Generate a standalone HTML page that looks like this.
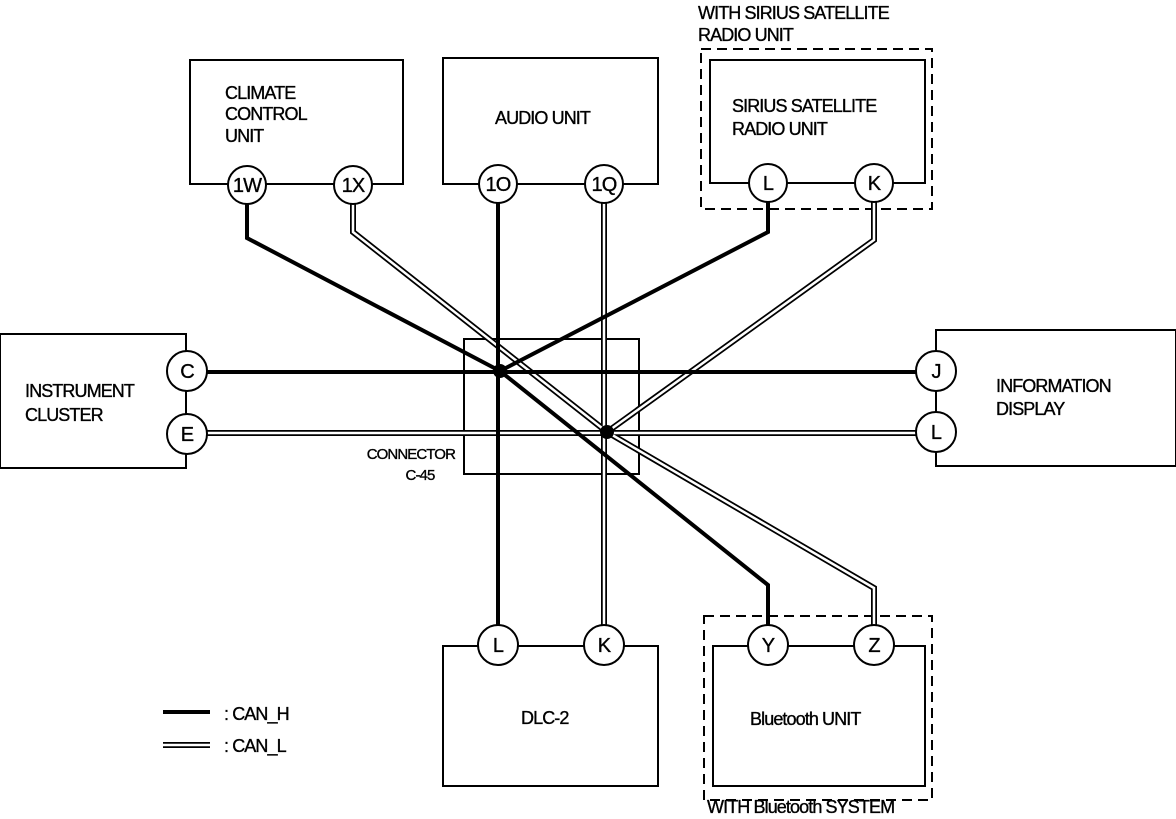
<!DOCTYPE html>
<html><head><meta charset="utf-8"><style>
html,body{margin:0;padding:0;background:#fff;}
svg{display:block;}
text{font-family:"Liberation Sans",sans-serif;font-size:18px;fill:#000;letter-spacing:-0.9px;stroke:#000;stroke-width:0.35px;}
.c text{font-size:20px;text-anchor:middle;}
</style></head><body>
<svg width="1176" height="819" viewBox="0 0 1176 819" xmlns="http://www.w3.org/2000/svg">
<g fill="none" stroke="#000" stroke-width="2">
<rect x="190" y="60" width="213" height="124"/>
<rect x="443" y="58" width="215" height="126"/>
<rect x="710" y="60" width="215" height="123"/>
<rect x="701" y="49" width="231" height="160" stroke-dasharray="10,6"/>
<rect x="0" y="334" width="186" height="134"/>
<rect x="936" y="330" width="240" height="136"/>
<rect x="443" y="646" width="215" height="140"/>
<rect x="713" y="646" width="212" height="140"/>
<rect x="704" y="616" width="228" height="184" stroke-dasharray="10,6"/>
<rect x="464" y="339" width="175" height="135"/>
</g>
<g fill="none" stroke-linejoin="miter">
<g stroke="#000" stroke-width="6">
<polyline points="353,200 353,232 607,432 874,588 874,630"/>
<line x1="604" y1="200" x2="604" y2="630"/>
<line x1="202" y1="433" x2="920" y2="433"/>
<polyline points="874,200 874,240 607,432"/>
<line x1="163" y1="745" x2="210" y2="745"/>
</g>
<g stroke="#fff" stroke-width="2.5">
<polyline points="353,200 353,232 607,432 874,588 874,630"/>
<line x1="604" y1="200" x2="604" y2="630"/>
<line x1="202" y1="433" x2="920" y2="433"/>
<polyline points="874,200 874,240 607,432"/>
<line x1="163" y1="745" x2="210" y2="745"/>
</g>
</g>
<g fill="none" stroke="#000" stroke-width="4">
<polyline points="247,200 247,238 500,371 768,585 768,630"/>
<line x1="498" y1="200" x2="498" y2="630"/>
<line x1="202" y1="372" x2="920" y2="372"/>
<polyline points="768,200 768,232 500,371"/>
<line x1="163" y1="712" x2="210" y2="712"/>
</g>
<circle cx="500" cy="371" r="7"/>
<circle cx="607" cy="432" r="7"/>
<g class="c">
<g fill="#fff" stroke="#000" stroke-width="2">
<circle cx="247" cy="185" r="19"/><circle cx="353" cy="185" r="19"/>
<circle cx="498" cy="184" r="19"/><circle cx="604" cy="184" r="19"/>
<circle cx="768" cy="183" r="19"/><circle cx="874" cy="183" r="19"/>
<circle cx="187" cy="371" r="20"/><circle cx="187" cy="434" r="20"/>
<circle cx="936" cy="371" r="20"/><circle cx="936" cy="432" r="20"/>
<circle cx="498" cy="645" r="20"/><circle cx="604" cy="645" r="20"/>
<circle cx="768" cy="645" r="20"/><circle cx="874" cy="645" r="20"/>
</g>
<text x="247" y="192">1W</text><text x="353" y="192">1X</text>
<text x="498" y="191">1O</text><text x="604" y="191">1Q</text>
<text x="768" y="190">L</text><text x="874" y="190">K</text>
<text x="187" y="378">C</text><text x="187" y="441">E</text>
<text x="936" y="378">J</text><text x="936" y="439">L</text>
<text x="498" y="652">L</text><text x="604" y="652">K</text>
<text x="768" y="652">Y</text><text x="874" y="652">Z</text>
</g>
<text x="225" y="99">CLIMATE</text>
<text x="225" y="120">CONTROL</text>
<text x="225" y="142">UNIT</text>
<text x="495" y="124">AUDIO UNIT</text>
<text x="732" y="112">SIRIUS SATELLITE</text>
<text x="732" y="135">RADIO UNIT</text>
<text x="698" y="19">WITH SIRIUS SATELLITE</text>
<text x="698" y="41">RADIO UNIT</text>
<text x="25" y="397">INSTRUMENT</text>
<text x="25" y="421">CLUSTER</text>
<text x="996" y="392">INFORMATION</text>
<text x="996" y="415">DISPLAY</text>
<text x="455" y="459" text-anchor="end" style="font-size:15px">CONNECTOR</text>
<text x="420" y="480" text-anchor="middle" style="font-size:15px">C-45</text>
<text x="521" y="724">DLC-2</text>
<text x="750" y="725">Bluetooth UNIT</text>
<text x="707" y="813">WITH Bluetooth SYSTEM</text>
<text x="224" y="720">:  CAN_H</text>
<text x="224" y="752">:  CAN_L</text>
</svg>
</body></html>
